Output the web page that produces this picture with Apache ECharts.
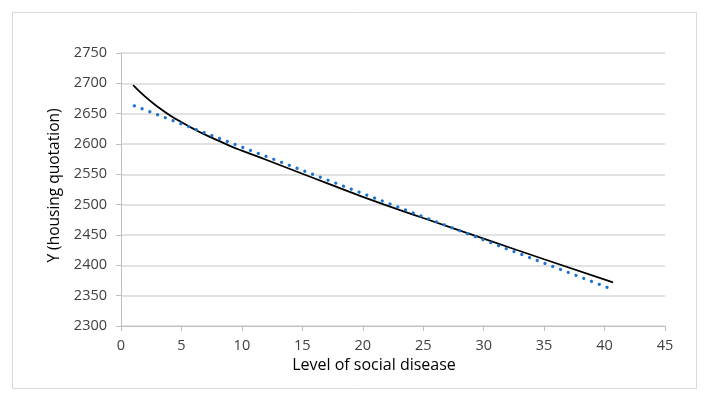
<!DOCTYPE html>
<html>
<head>
<meta charset="utf-8">
<script src="https://cdn.jsdelivr.net/npm/echarts@6/dist/echarts.min.js"></script>
<style>
html,body{margin:0;padding:0;background:#fff;}
#c{width:711px;height:401px;}
</style>
</head>
<body>
<div id="c"></div>
<script>
// Observed curve (black line)
const curveX = [1, 2, 3, 4, 5, 6, 7, 8, 9, 10, 12, 15, 20, 25, 30, 35, 40.7];
const curveY = [2697, 2678, 2662, 2648, 2636, 2625, 2615, 2606, 2597, 2589, 2574, 2551, 2513, 2478, 2444, 2410, 2372];
// Linear trend (blue dotted)
const trendX = [1.1, 40.3];
const trendY = [2663, 2363];
// Axis ticks
const xTicks = [0, 5, 10, 15, 20, 25, 30, 35, 40, 45];
const yTicks = [2300, 2350, 2400, 2450, 2500, 2550, 2600, 2650, 2700, 2750];

const zip = (a, b) => a.map((v, i) => [v, b[i]]);
const chart = echarts.init(document.getElementById('c'));
const labelFont = 'Open Sans';
chart.setOption({
  backgroundColor: '#ffffff',
  animation: false,
  graphic: [{
    type: 'rect',
    shape: {x: 12.5, y: 12.5, width: 684, height: 376},
    style: {fill: 'none', stroke: '#d9d9d9', lineWidth: 1}
  }],
  grid: {left: 121, right: 46, top: 53, bottom: 75},
  xAxis: {
    type: 'value',
    min: xTicks[0], max: xTicks[xTicks.length - 1], interval: 5,
    name: 'Level of social disease',
    nameLocation: 'middle',
    nameGap: 30,
    nameTextStyle: {fontFamily: labelFont, fontSize: 16, color: '#000', padding: [0, 38, 0, 0]},
    axisLine: {show: true, lineStyle: {color: '#bfbfbf', width: 1}},
    axisTick: {show: true, length: 5, lineStyle: {color: '#bfbfbf'}},
    axisLabel: {fontFamily: labelFont, fontSize: 14.5, color: '#404040', margin: 12,
      formatter: v => String(v)},
    splitLine: {show: false}
  },
  yAxis: {
    type: 'value',
    min: yTicks[0], max: yTicks[yTicks.length - 1], interval: 50,
    name: 'Y (housing quotation)',
    nameLocation: 'middle',
    nameGap: 56,
    nameRotate: 90,
    nameTextStyle: {fontFamily: labelFont, fontSize: 15.5, color: '#000', padding: [0, 0, 0, 8]},
    axisLine: {show: true, lineStyle: {color: '#bfbfbf', width: 1}},
    axisTick: {show: true, length: 5, lineStyle: {color: '#bfbfbf'}},
    axisLabel: {fontFamily: labelFont, fontSize: 14.5, color: '#404040', margin: 14,
      formatter: v => String(v)},
    splitLine: {show: true, lineStyle: {color: '#d9d9d9', width: 1.5}}
  },
  series: [
    {
      type: 'line',
      data: zip(curveX, curveY),
      smooth: true,
      showSymbol: false,
      lineStyle: {color: '#000000', width: 1.8}
    },
    {
      type: 'line',
      data: zip(trendX, trendY),
      showSymbol: false,
      lineStyle: {color: '#1a73d0', width: 3.2, type: [0.1, 8.2], cap: 'round'}
    }
  ]
});
</script>
</body>
</html>
